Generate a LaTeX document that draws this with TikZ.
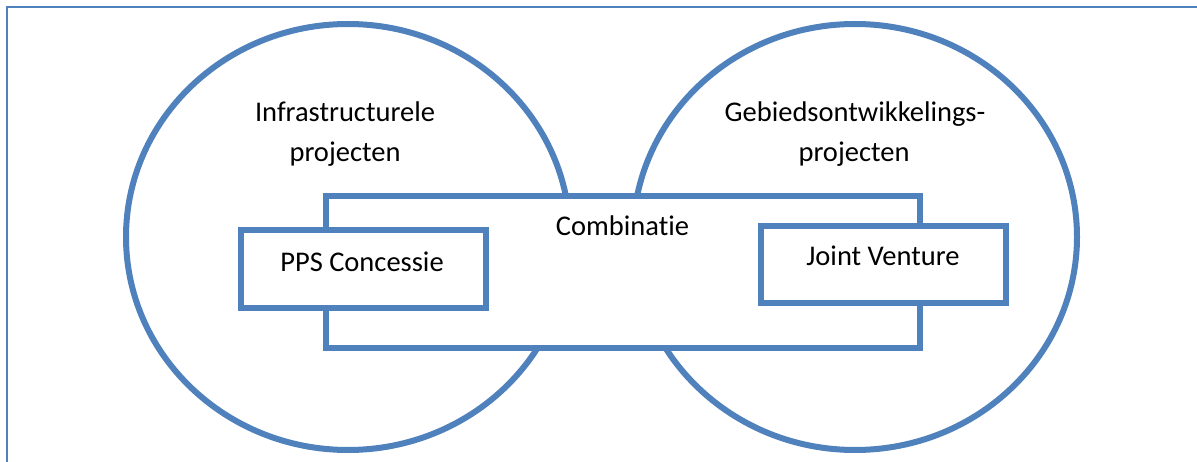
\documentclass[tikz,border=0pt]{standalone}
\usepackage{fontspec}
\setmainfont{Carlito}[Ligatures=NoCommon]
\usetikzlibrary{shapes.geometric}
\definecolor{offblue}{HTML}{4F81BD}
\tikzset{
  bigset/.style={ellipse, draw=offblue, line width=6pt, inner sep=0pt, minimum width=444pt, minimum height=426pt},
  boxframe/.style={rectangle, draw=offblue, fill=white, line width=6pt, inner sep=0pt},
  lbl/.style={font=\fontsize{28.5}{40}\selectfont, align=center, anchor=base, inner sep=0pt}
}
\begin{document}
\begin{tikzpicture}[x=1pt,y=-1pt]
\useasboundingbox (0,0) rectangle (1197,462);
\clip (0,0) rectangle (1197,462);
\fill[white] (0,0) rectangle (1197,462);
\draw[offblue, line width=1.6pt] (7,7) rectangle (1210,480);
% circles
\node[bigset] (left) at (348,237) {};
\node[bigset] (right) at (855,237) {};
% combination box
\node[boxframe, minimum width=594pt, minimum height=152pt] (comb) at (623,272) {};
% inner boxes
\node[boxframe, minimum width=245pt, minimum height=78pt] (pps) at (363.5,269) {};
\node[boxframe, minimum width=245pt, minimum height=77pt] (jv) at (883.5,264.5) {};
% texts
\node[lbl] (tleft1) at (345,122) {Infrastructurele};
\node[lbl] (tleft2) at (345,162) {projecten};
\node[lbl] (tright1) at (855,122) {Gebiedsontwikkelings-};
\node[lbl] (tright2) at (854,162) {projecten};
\node[lbl] (tcomb) at (622.5,236) {Combinat\kern0pt ie};
\node[lbl] (tpps) at (362,272) {PPS Concessie};
\node[lbl] (tjv) at (883,266) {Joint Venture};
\end{tikzpicture}
\end{document}
